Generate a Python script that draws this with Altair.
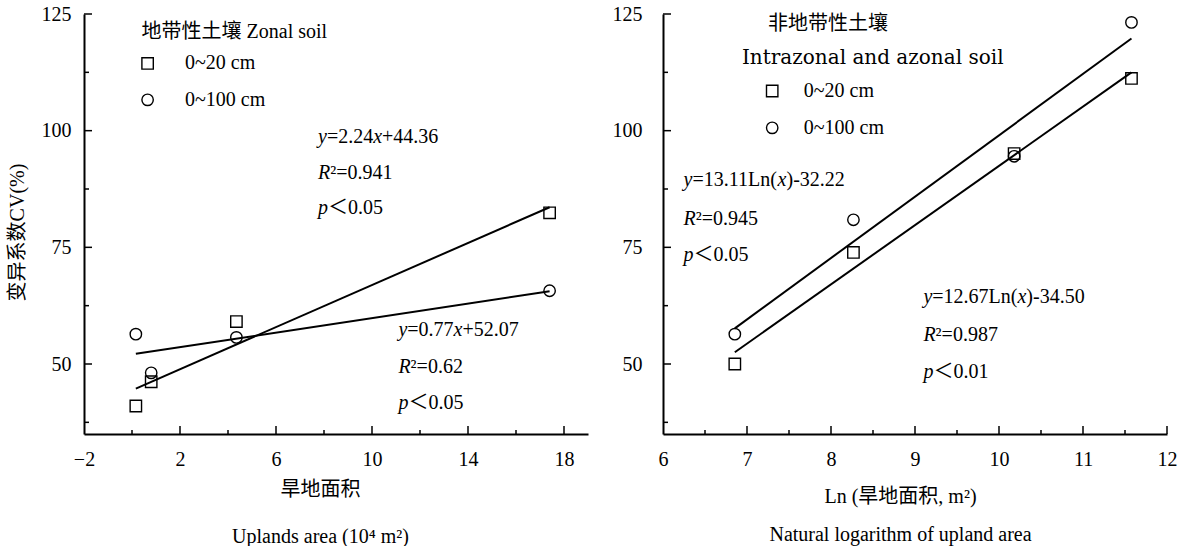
import re
import altair as alt
import pandas as pd

SERIES = ["0~20 cm", "0~100 cm"]

# ---- data ----
left_area = [0.16, 0.80, 4.35, 17.40]
left_cv_20 = [41.0, 46.2, 59.1, 82.4]
left_cv_100 = [56.4, 48.1, 55.7, 65.7]

right_ln = [6.855, 8.267, 10.18, 11.577]
right_cv_20 = [50.0, 73.9, 95.1, 111.2]
right_cv_100 = [56.4, 80.9, 94.5, 123.2]

left_x_labels = [-2, 2, 6, 10, 14, 18]
left_x_major = [2, 6, 10, 14, 18]
left_x_minor = [0, 4, 8, 12, 16]
right_x_labels = [6, 7, 8, 9, 10, 11, 12]
right_x_major = [7, 8, 9, 10, 11, 12]
right_x_minor = [6.5, 7.5, 8.5, 9.5, 10.5, 11.5]
y_labels = [50, 75, 100, 125]
y_minor = [37.5, 62.5, 87.5, 112.5]

left_legend_title = "地带性土壤 Zonal soil"
right_legend_title_cn = "非地带性土壤"
right_legend_title_en = "Intrazonal and azonal soil"

left_eq_a = ["{y}=2.24{x}+44.36", "{R}²=0.941", "{p}＜0.05"]
left_eq_b = ["{y}=0.77{x}+52.07", "{R}²=0.62", "{p}＜0.05"]
right_eq_a = ["{y}=13.11Ln({x})-32.22", "{R}²=0.945", "{p}＜0.05"]
right_eq_b = ["{y}=12.67Ln({x})-34.50", "{R}²=0.987", "{p}＜0.01"]

# annotation anchors (data coordinates)
left_eq_a_x, left_eq_a_y = 7.75, [98.7, 90.9, 83.4]
left_eq_b_x, left_eq_b_y = 11.1, [57.3, 49.4, 41.6]
right_eq_a_x, right_eq_a_y = 6.245, [89.4, 81.0, 73.4]
right_eq_b_x, right_eq_b_y = 9.10, [64.4, 56.2, 48.3]

left_leg_sym_x, left_leg_lab_x, left_leg_y = 0.65, 2.21, [114.4, 106.6]
left_leg_title_xy = (0.40, 121.2)
right_leg_sym_x, right_leg_lab_x, right_leg_y = 7.30, 7.675, [108.5, 100.6]
right_leg_title_cn_xy = (7.25, 122.9)
right_leg_title_en_xy = (6.94, 115.6)

W, H = 504, 420
FONT = "Liberation Serif"
CJK = "Liberation Serif, Noto Sans CJK SC"
FS = 20

REG = {c: 500 for c in "0123456789"}
REG.update({".": 250, "=": 564, "+": 564, "-": 333, "L": 611, "n": 500,
            "(": 333, ")": 333, "²": 300, "＜": 1000, " ": 250})
ITA = {"y": 444, "x": 444, "R": 611, "p": 500}


def seg_width(t, it):
    tbl = ITA if it else REG
    return sum(tbl.get(c, 500) for c in t) * FS / 1000.0


def segments(lines, x0, ys, px_per_unit):
    rows = []
    for line, y in zip(lines, ys):
        dx = 0.0
        for part in re.split(r"(\{[^}]*\})", line):
            if not part:
                continue
            it = part.startswith("{")
            t = part.strip("{}")
            rows.append({"x": x0 + dx / px_per_unit, "y": y, "text": t, "italic": it})
            dx += seg_width(t, it)
    return rows


def points_df(xs, y20, y100):
    rows = []
    for s, ys in zip(SERIES, [y20, y100]):
        for x, y in zip(xs, ys):
            rows.append({"x": x, "y": y, "series": s})
    return pd.DataFrame(rows)


shape_scale = alt.Scale(domain=SERIES, range=["square", "circle"])


def panel(xs, y20, y100, xdom, xlabels, xmajor, xminor, xtitle, title_x, title_y,
          title_lh, ytitle, ylabpad, eqs, leg_sym_x, leg_lab_x, leg_y, titles):
    xsc = alt.Scale(domain=xdom, nice=False, zero=False)
    ysc = alt.Scale(domain=[35, 125], nice=False, zero=False)
    ppu = W / (xdom[1] - xdom[0])
    segs = []
    for lines, x0, ys in eqs:
        segs += segments(lines, x0, ys, ppu)

    xaxis = alt.Axis(values=xlabels, ticks=False, grid=False, domainWidth=2,
                     domainColor="black", labelFontSize=FS, labelFont=FONT,
                     labelColor="black", labelPadding=15, labelFlush=False,
                     labelOverlap=False, labelBound=False,
                     title=xtitle, titleFont=CJK, titleFontSize=FS,
                     titleFontWeight="normal", titleColor="black",
                     titleX=title_x, titleY=title_y, titleAlign="center",
                     titleBaseline="top", titleLineHeight=title_lh)
    yargs = dict(values=y_labels, ticks=False, grid=False, domainWidth=2,
                 domainColor="black", labelFontSize=FS, labelFont=FONT,
                 labelColor="black", labelPadding=ylabpad, labelFlush=False,
                 labelOverlap=False, labelBound=False)
    if ytitle:
        yargs.update(title=ytitle, titleFont=CJK, titleFontSize=FS,
                     titleFontWeight="normal", titleColor="black",
                     titleAngle=270, titleX=-67, titleY=218,
                     titleAlign="center", titleBaseline="middle")
    else:
        yargs.update(title=None)
    yaxis = alt.Axis(**yargs)

    def X(f):
        return alt.X(f, scale=xsc, axis=xaxis)

    def Y(f):
        return alt.Y(f, scale=ysc, axis=yaxis)

    pdf = points_df(xs, y20, y100)
    base = alt.Chart(pdf)
    pts = base.mark_point(filled=False, color="black", strokeWidth=1.4, size=130, opacity=1).encode(
        x=X("x:Q"), y=Y("y:Q"),
        shape=alt.Shape("series:N", scale=shape_scale, legend=None),
    )
    fit = base.transform_regression("x", "y", groupby=["series"]).mark_line(
        color="black", strokeWidth=2).encode(x=X("x:Q"), y=Y("y:Q"), detail="series:N")

    def xticks(vals, ln):
        return alt.Chart(pd.DataFrame({"x": vals})).mark_rule(color="black", strokeWidth=1.5).encode(
            x=X("x:Q"), y=alt.value(H), y2=alt.value(H - ln))

    def yticks(vals, ln):
        return alt.Chart(pd.DataFrame({"y": vals})).mark_rule(color="black", strokeWidth=1.5).encode(
            y=Y("y:Q"), x=alt.value(0), x2=alt.value(ln))

    sdf = pd.DataFrame(segs)
    txt_norm = alt.Chart(sdf).transform_filter("!datum.italic").mark_text(
        align="left", baseline="middle", font=CJK, fontSize=FS, color="black").encode(
        x=X("x:Q"), y=Y("y:Q"), text="text:N")
    txt_it = alt.Chart(sdf).transform_filter("datum.italic").mark_text(
        align="left", baseline="middle", font=FONT, fontStyle="italic", fontSize=FS,
        color="black").encode(x=X("x:Q"), y=Y("y:Q"), text="text:N")

    leg_sym = alt.Chart(pd.DataFrame({"x": [leg_sym_x] * 2, "y": leg_y, "series": SERIES})).mark_point(
        filled=False, color="black", strokeWidth=1.4, size=130, opacity=1).encode(
        x=X("x:Q"), y=Y("y:Q"),
        shape=alt.Shape("series:N", scale=shape_scale, legend=None))
    leg_lab = alt.Chart(pd.DataFrame({"x": [leg_lab_x] * 2, "y": leg_y, "t": SERIES})).mark_text(
        align="left", baseline="middle", font=FONT, fontSize=FS, color="black").encode(
        x=X("x:Q"), y=Y("y:Q"), text="t:N")

    layers = [pts, fit, xticks(xmajor, 8), xticks(xminor, 4), yticks(y_labels, 8),
              yticks(y_minor, 5), txt_norm, txt_it, leg_sym, leg_lab]
    for (t, tx, ty, font, fs) in titles:
        layers.append(alt.Chart(pd.DataFrame({"x": [tx], "y": [ty], "t": [t]})).mark_text(
            align="left", baseline="middle", font=font, fontSize=fs, color="black").encode(
            x=X("x:Q"), y=Y("y:Q"), text="t:N"))
    return alt.layer(*layers).properties(width=W, height=H)


left = panel(left_area, left_cv_20, left_cv_100, [-2, 19], left_x_labels, left_x_major, left_x_minor,
             ["旱地面积", "Uplands area (10⁴ m²)"], 236, 45, 47, "变异系数CV(%)", 13,
             [(left_eq_a, left_eq_a_x, left_eq_a_y), (left_eq_b, left_eq_b_x, left_eq_b_y)],
             left_leg_sym_x, left_leg_lab_x, left_leg_y,
             [(left_legend_title, left_leg_title_xy[0], left_leg_title_xy[1], CJK, FS)])
right = panel(right_ln, right_cv_20, right_cv_100, [6, 12], right_x_labels, right_x_major, right_x_minor,
              ["Ln (旱地面积, m²)", "Natural logarithm of upland area"], 237, 52, 38, None, 21,
              [(right_eq_a, right_eq_a_x, right_eq_a_y), (right_eq_b, right_eq_b_x, right_eq_b_y)],
              right_leg_sym_x, right_leg_lab_x, right_leg_y,
              [(right_legend_title_cn, right_leg_title_cn_xy[0], right_leg_title_cn_xy[1], CJK, FS),
               (right_legend_title_en, right_leg_title_en_xy[0], right_leg_title_en_xy[1], "DejaVu Serif", 20)])

chart = alt.hconcat(left, right, spacing=24).properties(
    padding={"left": 7, "top": 4, "right": 0, "bottom": 0}, background="white"
).configure_view(stroke=None)

chart.save("out.html", embed_options={"renderer": "svg", "actions": False})
